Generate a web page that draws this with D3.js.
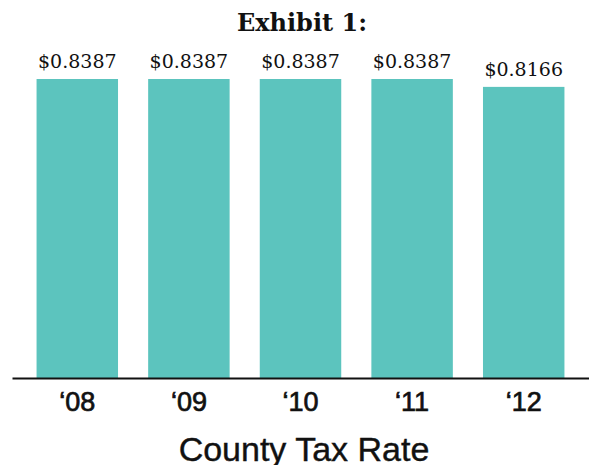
<!DOCTYPE html>
<html>
<head>
<meta charset="utf-8">
<script src="https://cdn.jsdelivr.net/npm/d3@7"></script>
<style>
  html, body { margin: 0; padding: 0; background: #fff; }
  .etiqueta { font-family: "DejaVu Serif", serif; font-size: 19px; fill: #111; }
  .titulo { font-family: "DejaVu Serif", serif; font-size: 24px; font-weight: bold; fill: #111; }
  .eje text { font-family: "Liberation Sans", Arial, sans-serif; font-size: 27px; fill: #111; stroke: #111; stroke-width: 0.7px; }
  .subtitulo { font-family: "Liberation Sans", Arial, sans-serif; font-size: 34px; fill: #111; stroke: #111; stroke-width: 0.4px; }
</style>
</head>
<body>
<div id="graf"></div>
<script>
// Datos de la tasa de impuesto del condado por año
const anios = ['\u201808', '\u201809', '\u201810', '\u201811', '\u201812']
const tasas = [0.8387, 0.8387, 0.8387, 0.8387, 0.8166]
const etiquetas = ['$0.8387', '$0.8387', '$0.8387', '$0.8387', '$0.8166']

// Configuración de tamaños
const ancho = 589
const alto = 465
const base = 378

const svg = d3.select('#graf')
    .append('svg')
    .attr('width', ancho)
    .attr('height', alto)

const xScale = d3.scaleBand()
    .domain(anios)
    .range([12, 589])
    .paddingInner(0.27)
    .paddingOuter(0.22)

const yScale = d3.scaleLinear()
    .domain([0, d3.max(tasas)])
    .range([base, 79])

// Barras
svg.selectAll('rect')
    .data(tasas)
    .enter()
    .append('rect')
    .attr('x', (d, i) => xScale(anios[i]))
    .attr('y', d => yScale(d))
    .attr('width', xScale.bandwidth())
    .attr('height', d => base - yScale(d))
    .attr('fill', '#5cc4be')

// Valores encima de cada barra
svg.selectAll('.etiqueta')
    .data(tasas)
    .enter()
    .append('text')
    .attr('class', 'etiqueta')
    .attr('x', (d, i) => xScale(anios[i]) + xScale.bandwidth() / 2)
    .attr('y', d => yScale(d) - 11)
    .attr('text-anchor', 'middle')
    .text((d, i) => etiquetas[i])

// Eje X
const ejeX = svg.append('g')
    .attr('class', 'eje')
    .attr('transform', `translate(0, ${base})`)
    .call(d3.axisBottom(xScale).tickSize(0).tickSizeOuter(0).tickPadding(8))

ejeX.select('.domain')
    .attr('stroke', '#111')
    .attr('stroke-width', 2)

ejeX.selectAll('text')
    .attr('dy', null)
    .attr('y', 33)

// Título
svg.append('text')
    .attr('class', 'titulo')
    .attr('x', 302)
    .attr('y', 31)
    .attr('text-anchor', 'middle')
    .text('Exhibit 1:')

svg.append('text')
    .attr('class', 'subtitulo')
    .attr('x', 304)
    .attr('y', 461)
    .attr('text-anchor', 'middle')
    .text('County Tax Rate')
</script>
</body>
</html>
